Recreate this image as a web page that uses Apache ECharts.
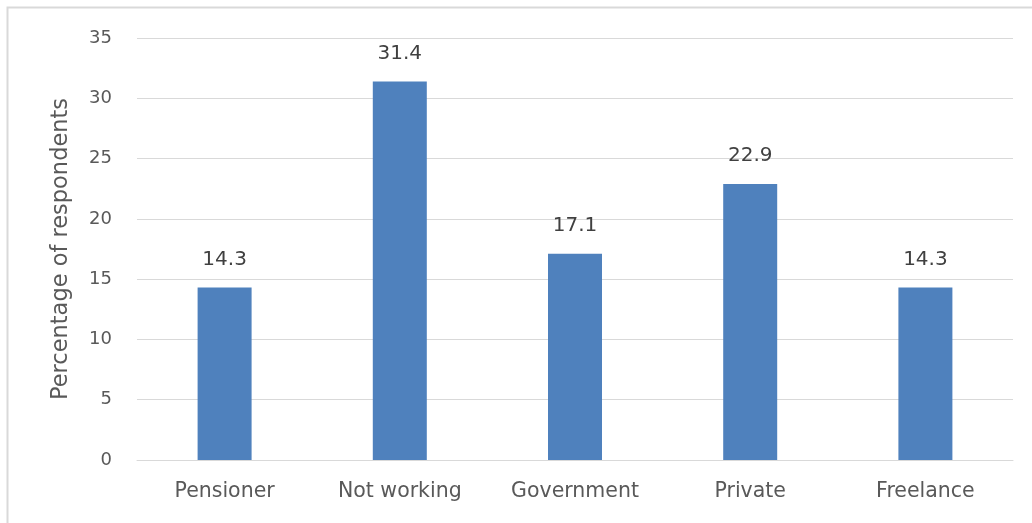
<!DOCTYPE html>
<html>
<head>
<meta charset="utf-8">
<script src="https://cdn.jsdelivr.net/npm/echarts@6/dist/echarts.min.js"></script>
<style>html,body{margin:0;padding:0;background:#fff;}#c{width:1032px;height:523px;}</style>
</head>
<body>
<div id="c"></div>
<script>
const categories = ['Pensioner', 'Not working', 'Government', 'Private', 'Freelance'];
const values = [14.3, 31.4, 17.1, 22.9, 14.3];
const yTicks = { min: 0, max: 35, interval: 5 };
const yAxisTitle = 'Percentage of respondents';

const chart = echarts.init(document.getElementById('c'));
const font = "'DejaVu Sans', sans-serif";
chart.setOption({
  animation: false,
  backgroundColor: '#fff',
  graphic: [{
    type: 'rect', shape: { x: 7.5, y: 7.5, width: 1100, height: 600 },
    style: { fill: 'none', stroke: '#d9d9d9', lineWidth: 2 }, silent: true
  }],
  grid: { left: 137, right: 19, top: 38, bottom: 63 },
  xAxis: {
    type: 'category', data: categories,
    axisLine: { show: true, lineStyle: { color: '#d9d9d9', width: 1 } },
    axisTick: { show: false },
    axisLabel: { color: '#595959', fontSize: 20.5, fontFamily: font, margin: 21 }
  },
  yAxis: {
    type: 'value', min: yTicks.min, max: yTicks.max, interval: yTicks.interval,
    name: yAxisTitle, nameLocation: 'middle', nameGap: 64,
    nameTextStyle: { color: '#595959', fontSize: 22.5, fontFamily: font },
    axisLine: { show: false }, axisTick: { show: false },
    axisLabel: { color: '#595959', fontSize: 18, fontFamily: font, margin: 25 },
    splitLine: { lineStyle: { color: '#d9d9d9', width: 1 } }
  },
  series: [{
    type: 'bar', data: values, barWidth: 54,
    itemStyle: { color: '#4f81bd' },
    label: { show: true, position: 'top', distance: 18, color: '#404040', fontSize: 20, fontFamily: font }
  }]
});
</script>
</body>
</html>
